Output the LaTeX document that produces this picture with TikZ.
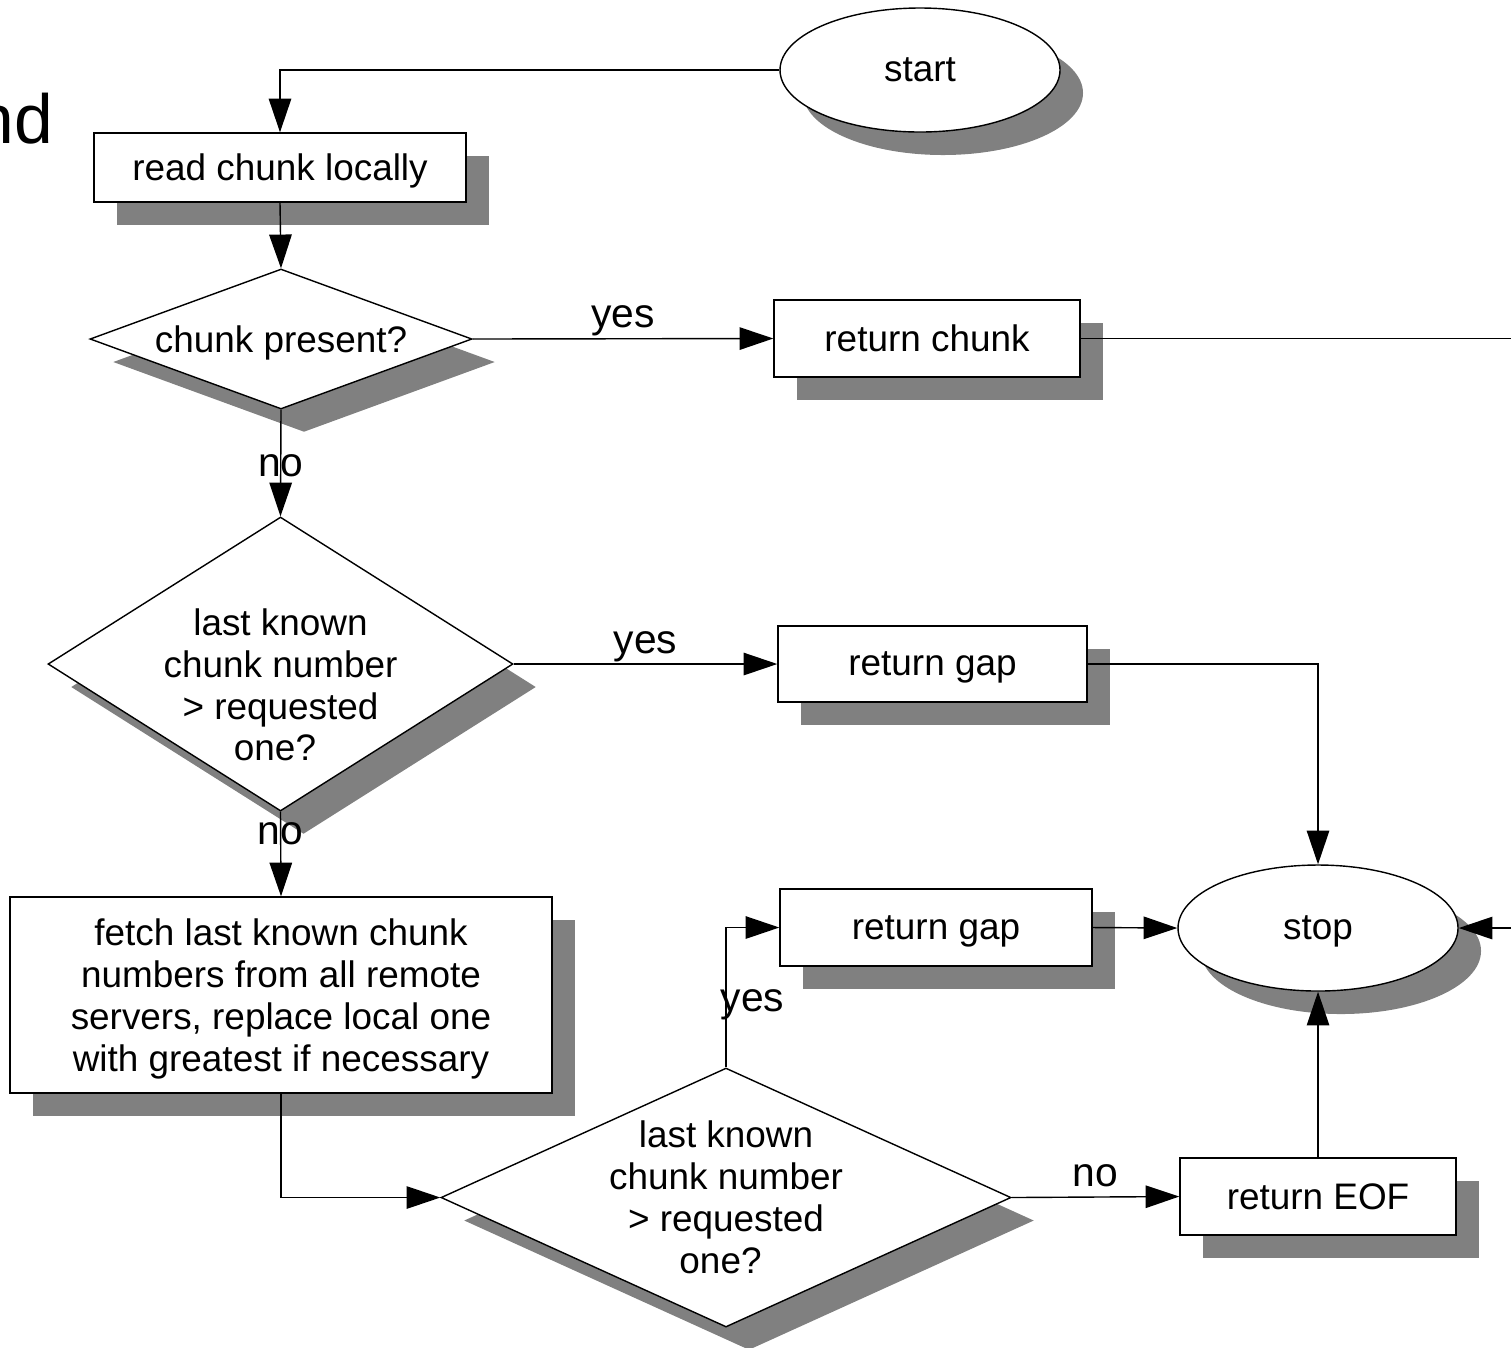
\documentclass[tikz,border=0pt]{standalone}
\usepackage{fontspec}
\setmainfont{Liberation Sans}
\usetikzlibrary{shapes.geometric,arrows.meta,shadows}

\begin{document}
\begin{tikzpicture}[
	flowshadow/.style={drop shadow={shadow xshift=0.23cm, shadow yshift=-0.23cm, fill=black!50, opacity=1}},
	txt/.style={font=\fontsize{10.5pt}{11.9pt}\selectfont, align=center},
	lbl/.style={font=\fontsize{11.6pt}{13pt}\selectfont},
	toplbl/.style={lbl, inner sep=0pt, anchor=base, yshift=3.1pt},
	box/.style={rectangle, draw, fill=white, flowshadow, txt, text depth=0pt, inner sep=0pt},
	terminal/.style={ellipse, draw, fill=white, flowshadow, txt, text depth=0pt, inner sep=0pt},
	decision/.style={diamond, draw, fill=white, flowshadow, inner sep=0pt},
	arr/.style={-{Triangle[length=9.6pt,width=6.4pt]}},
	line width=0.4pt
	]
	
	\useasboundingbox (0,0) rectangle (15.11,-13.47);
	\clip (0,0) rectangle (15.11,-13.47);
	
	\node[anchor=base west, inner sep=0pt, font=\fontsize{19.8pt}{22pt}\selectfont] (nd) at (-0.25,-1.43) {nd};
	
	\node[terminal, minimum width=2.80cm, minimum height=1.24cm] (start) at (9.20,-0.70) {start};
	\node[box, minimum width=3.72cm, minimum height=0.69cm] (read) at (2.80,-1.675) {read chunk locally};
	\node[decision, minimum width=3.82cm, minimum height=1.40cm, label={[txt, text depth=0pt]center:{chunk present?}}] (present) at (2.81,-3.39) {};
	\node[box, minimum width=3.06cm, minimum height=0.77cm] (rchunk) at (9.27,-3.385) {return chunk};
	
	\node[decision, minimum width=4.65cm, minimum height=2.94cm, label={[txt, yshift=-0.21cm]center:{last known\\chunk number\\> requested\\one?\hspace*{0.11cm}}}] (known1) at (2.805,-6.64) {};
	\node[box, minimum width=3.09cm, minimum height=0.76cm] (gap1) at (9.325,-6.64) {return gap};
	
	\node[box, minimum width=5.42cm, minimum height=1.96cm] (fetch) at (2.81,-9.95) {fetch last known chunk\\numbers from all remote\\servers, replace local one\\with greatest if necessary};
	\node[box, minimum width=3.12cm, minimum height=0.77cm] (gap2) at (9.36,-9.275) {return gap};
	\node[terminal, minimum width=2.80cm, minimum height=1.26cm] (stop) at (13.18,-9.28) {stop};
	
	\node[decision, minimum width=5.70cm, minimum height=2.59cm, label={[txt]center:{last known\\chunk number\\> requested\\one?\hspace*{0.11cm}}}] (known2) at (7.26,-11.975) {};
	\node[box, minimum width=2.76cm, minimum height=0.77cm] (eof) at (13.18,-11.965) {return EOF};
	
	\coordinate (offright) at (15.6,-3.385);
	
	\draw[arr] (start.west) -| (read.north);
	\draw[arr] (read.south) -- (present.north);
	\draw[arr] (present.east) -- (rchunk.west) node[midway, toplbl] {yes};
	\draw[arr] (present.south) -- (known1.north) node[midway, lbl, yshift=-0.03cm] {no};
	\draw[arr] (known1.east) -- (gap1.west) node[midway, toplbl] {yes};
	\draw[arr] (known1.south) -- (fetch.north) node[pos=0.22, lbl, yshift=-0.03cm] {no};
	\draw[arr] (gap1.east) -| (stop.north);
	\draw[arr] (fetch.south) |- (known2.west);
	\draw[arr] (known2.north) |- (gap2.west) node[pos=0.25, lbl, inner sep=0pt, anchor=base west, xshift=-0.06cm, yshift=-0.145cm] {yes};
	\draw[arr] (gap2.east) -- (stop.west);
	\draw[arr] (known2.east) -- (eof.west) node[midway, toplbl] {no};
	\draw[arr] (eof.north) -- (stop.south);
	\draw[arr] (rchunk.east) -- (offright) |- (stop.east);
	
\end{tikzpicture}
\end{document}
